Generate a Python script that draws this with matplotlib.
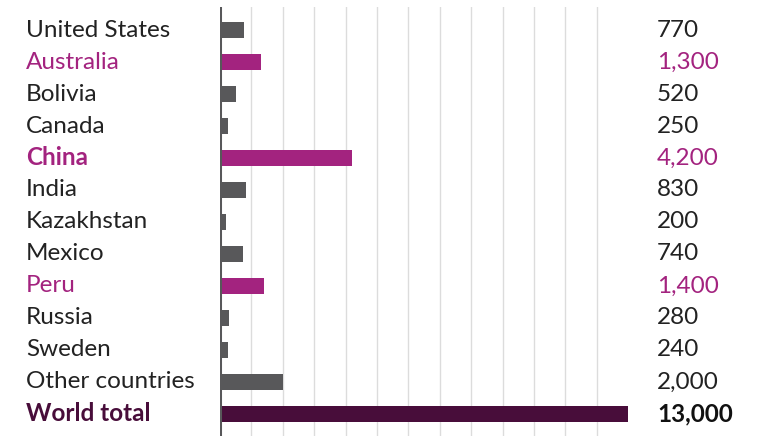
import matplotlib
matplotlib.use('Agg')
import matplotlib.pyplot as plt
from matplotlib.transforms import blended_transform_factory

categories = ['United States', 'Australia', 'Bolivia', 'Canada', 'China', 'India',
              'Kazakhstan', 'Mexico', 'Peru', 'Russia', 'Sweden', 'Other countries',
              'World total']
values = [770, 1300, 520, 250, 4200, 830, 200, 740, 1400, 280, 240, 2000, 13000]
value_labels = ['770', '1,300', '520', '250', '4,200', '830', '200', '740', '1,400',
                '280', '240', '2,000', '13,000']
highlight = ['Australia', 'China', 'Peru']
bold = ['China', 'World total']

gray = '#58585a'
magenta = '#a3237f'
dark = '#480d3a'

plt.rcParams['font.family'] = ['Lato', 'DejaVu Sans']

fig = plt.figure(figsize=(7.64, 4.36), dpi=100)
ax = fig.add_axes([220 / 764, 0, 424 / 764, 429 / 436])

bar_colors = []
text_colors = []
for c in categories:
    if c == 'World total':
        bar_colors.append(dark)
        text_colors.append(dark)
    elif c in highlight:
        bar_colors.append(magenta)
        text_colors.append(magenta)
    else:
        bar_colors.append(gray)
        text_colors.append('#222222')

y = list(range(len(categories)))
ax.barh(y, values, height=0.48, color=bar_colors, zorder=3)

ax.set_xlim(0, 13500)
ax.set_ylim(12.69, -0.72)
# light vertical grid every 1,000
for g in range(1000, 13000, 1000):
    ax.axvline(g, color='#dcdcdc', lw=1, zorder=1)
ax.axvline(0, color='#58585a', lw=2.2, zorder=4)

ax.set_xticks([])
ax.set_yticks([])
for s in ax.spines.values():
    s.set_visible(False)

trans = blended_transform_factory(fig.transFigure, ax.transData)
for i, c in enumerate(categories):
    w = 'bold' if c in bold else 'normal'
    fig.text(26 / 764, i, c, transform=trans, fontsize=17.5,
             color=text_colors[i], fontweight=w, va='center', ha='left')
    vw = 'bold' if c == 'World total' else 'normal'
    vc = '#111111' if c == 'World total' else text_colors[i]
    fig.text(657 / 764, i, value_labels[i], transform=trans, fontsize=17.5,
             color=vc, fontweight=vw, va='center', ha='left')

plt.savefig('out.png', dpi=100)
